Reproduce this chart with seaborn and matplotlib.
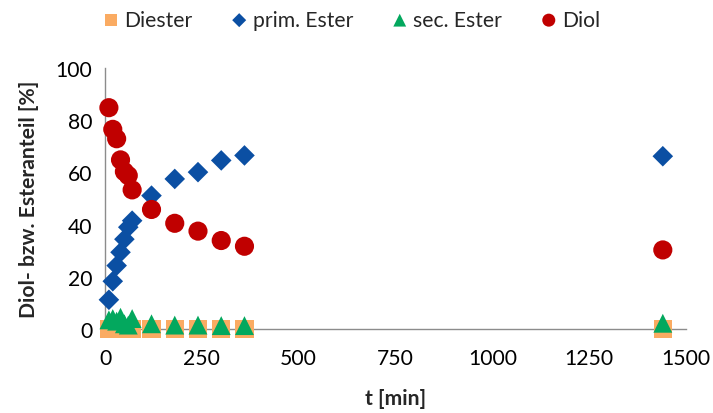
import numpy as np
import pandas as pd
import matplotlib
matplotlib.use("Agg")
import matplotlib.pyplot as plt
import seaborn as sns

# Reaction time [min]
t_min = [10, 20, 30, 40, 50, 60, 70, 120, 180, 240, 300, 360, 1440]

# Fractions [%]
diester = [0, 0, 0, 0, 0, 0, 0, 0, 0, 0, 0, 0, 0]
prim_ester = [11.2, 18.3, 24.3, 29.4, 34.4, 39.0, 41.5, 51.1, 57.5, 60.1, 64.6, 66.5, 66.2]
sec_ester = [3.5, 4.0, 3.0, 4.5, 2.0, 1.5, 4.0, 2.0, 1.5, 1.5, 1.3, 1.3, 2.2]
diol = [84.8, 76.5, 72.9, 64.8, 60.3, 58.8, 53.3, 45.8, 40.5, 37.5, 33.9, 31.7, 30.3]

series_names = ["Diester", "prim. Ester", "sec. Ester", "Diol"]
series_values = [diester, prim_ester, sec_ester, diol]
series_markers = ["s", "D", "^", "o"]
series_sizes = [175, 110, 185, 190]
series_colors = ["#FAAB62", "#0B4FA3", "#03A85E", "#C00000"]

x_ticks = [0, 250, 500, 750, 1000, 1250, 1500]
y_ticks = [0, 20, 40, 60, 80, 100]

df = pd.DataFrame({"t": t_min})
for name, vals in zip(series_names, series_values):
    df[name] = vals

sns.set_theme(style="white")
plt.rcParams["font.family"] = ["Lato", "DejaVu Sans"]

FS = 15.2

fig = plt.figure(figsize=(7.13, 4.14), dpi=100)
ax = fig.add_axes([0.1473, 0.2029, 0.8149, 0.6304])

for name, mk, sz, col in zip(series_names, series_markers, series_sizes, series_colors):
    sns.scatterplot(data=df, x="t", y=name, marker=mk, s=sz, color=col,
                    edgecolor="none", linewidth=0, label=name, ax=ax,
                    clip_on=False, zorder=3)

ax.set_xlim(0, 1500)
ax.set_ylim(0, 100)
ax.set_xticks(x_ticks)
ax.set_yticks(y_ticks)
ax.set_xticklabels([str(v) for v in x_ticks])
ax.set_yticklabels([str(v) for v in y_ticks])

for side in ["top", "right"]:
    ax.spines[side].set_visible(False)
for side in ["left", "bottom"]:
    ax.spines[side].set_color("#8C8C8C")
    ax.spines[side].set_linewidth(1.0)
    ax.spines[side].set_zorder(1)

ax.tick_params(axis="both", which="major", direction="out", length=5,
               width=1.0, color="#8C8C8C", labelsize=FS, labelcolor="black")
ax.tick_params(axis="x", pad=9)
ax.tick_params(axis="y", pad=4)
ax.grid(False)

ax.set_xlabel("t [min]", fontsize=FS, fontweight="bold", labelpad=14)
ax.set_ylabel("Diol- bzw. Esteranteil [%]", fontsize=FS, fontweight="bold", labelpad=12)

handles, labels = ax.get_legend_handles_labels()
ax.get_legend().remove()
fig.legend(handles, labels, loc="center", bbox_to_anchor=(0.49, 0.95), ncol=4,
           frameon=False, fontsize=FS, markerscale=0.68, handletextpad=0.05,
           columnspacing=1.6, handlelength=1.2)

fig.savefig("out.png", dpi=100)
